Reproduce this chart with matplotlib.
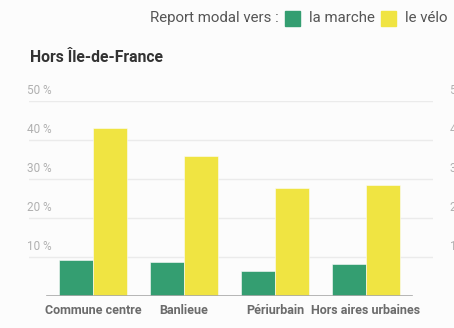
import matplotlib
matplotlib.use('Agg')
import matplotlib.pyplot as plt
from matplotlib.patches import Rectangle

# 数据
categories = ['Commune centre', 'Banlieue', 'Périurbain', 'Hors aires urbaines']
marche = [9.2, 8.8, 6.5, 8.2]
velo = [43.1, 36.0, 27.6, 28.4]
yticks = [10, 20, 30, 40, 50]

green = '#349e71'
yellow = '#f0e442'
bg = '#fcfcfc'

plt.rcParams['font.family'] = ['Roboto', 'DejaVu Sans']

W, H = 454, 328
fig = plt.figure(figsize=(W / 100, H / 100), dpi=100, facecolor=bg)
ax = fig.add_axes([29 / W, 32 / H, 404 / W, 195 / H], facecolor=bg)
ax.set_xlim(-0.703, 3.736)
ax.set_ylim(0, 50)
ax.axis('off')

# 网格线
for v in yticks:
    ax.axhline(v, color='#ebebeb', lw=1, zorder=0)
    ax.text(-0.73, v + 0.9, f'{v} %', ha='left', va='bottom', fontsize=8.5, color='#b0b0b0')
    ax.text(3.92, v + 0.9, f'{v} %', ha='left', va='bottom', fontsize=8.5, color='#b0b0b0', clip_on=False)

w = 0.374
for i, cat in enumerate(categories):
    ax.bar(i - w / 2, marche[i], width=w, color=green, edgecolor=bg, lw=0.4, zorder=2)
    ax.bar(i + w / 2, velo[i], width=w, color=yellow, edgecolor=bg, lw=0.4, zorder=2)
    ax.text(i, -3.6, cat, ha='center', va='center', fontsize=9, fontweight='bold', color='#6b6b6b', clip_on=False)

ax.plot([-0.5, 3.5], [0, 0], color='#aaaaaa', lw=1.2, zorder=3)

# 标题和图例
fig.text(30 / W, 1 - 58 / H, 'Hors Île-de-France', ha='left', va='center', fontsize=11.3, fontweight='bold', color='#333333')
fig.text(279 / W, 1 - 18 / H, 'Report modal vers :', ha='right', va='center', fontsize=10.8, color='#555555')
fig.patches.append(Rectangle((285 / W, 1 - 26 / H), 15 / W, 15 / H, transform=fig.transFigure, color=green))
fig.text(309 / W, 1 - 18 / H, 'la marche', ha='left', va='center', fontsize=10.8, color='#555555')
fig.patches.append(Rectangle((381 / W, 1 - 26 / H), 15 / W, 15 / H, transform=fig.transFigure, color=yellow))
fig.text(405 / W, 1 - 18 / H, 'le vélo', ha='left', va='center', fontsize=10.8, color='#555555')

fig.savefig('out.png', dpi=100, facecolor=bg)
